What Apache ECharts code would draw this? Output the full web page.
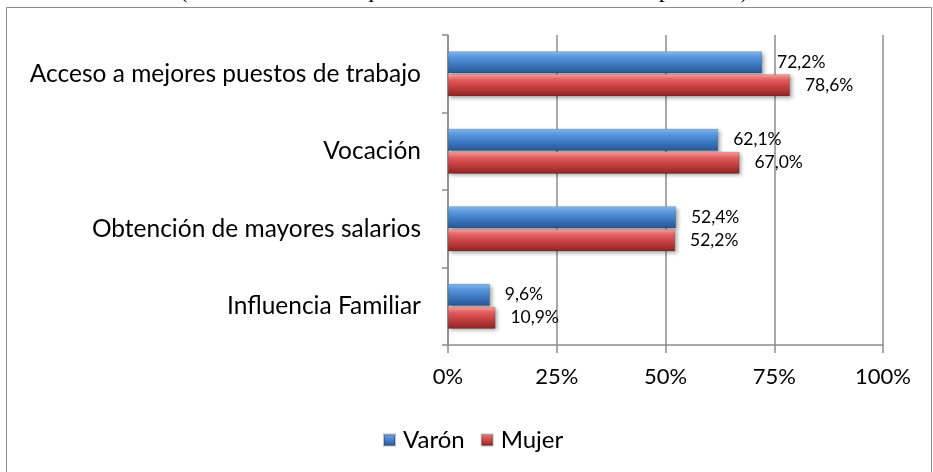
<!DOCTYPE html>
<html>
<head>
<meta charset="utf-8">
<script src="https://cdn.jsdelivr.net/npm/echarts@6/dist/echarts.min.js"></script>
<style>
  html, body { margin: 0; padding: 0; background: #fff; }
  #chart { width: 933px; height: 472px; }
</style>
</head>
<body>
<div id="chart"></div>
<script>
// Reasons for studying, by sex (% of students)
const categories = [
  'Acceso a mejores puestos de trabajo',
  'Vocación',
  'Obtención de mayores salarios',
  'Influencia Familiar'
];
const varon = [72.2, 62.1, 52.4, 9.6];
const mujer = [78.6, 67.0, 52.2, 10.9];
const xTicks = [0, 25, 50, 75, 100];

const FONT = 'Lato';

function grad(stops) {
  return new echarts.graphic.LinearGradient(0, 0, 0, 1,
    stops.map(([offset, color]) => ({ offset, color })));
}
const blueFill = grad([[0, '#86b8ee'], [0.25, '#5b98de'], [0.6, '#3c78c2'], [1, '#2a5590']]);
const redFill = grad([[0, '#f7a3a3'], [0.25, '#e46060'], [0.6, '#c23e3e'], [1, '#8c2525']]);

const fmt = v => v.toFixed(1).replace('.', ',') + '%';

const chart = echarts.init(document.getElementById('chart'), null, { renderer: 'canvas' });

function barSeries(name, data, fill) {
  return {
    name,
    type: 'bar',
    data,
    barWidth: 22,
    barGap: '4%',
    itemStyle: {
      color: fill,
      borderColor: 'rgba(0,0,0,0.25)',
      borderWidth: 0.5,
      shadowColor: 'rgba(0,0,0,0.35)',
      shadowBlur: 4,
      shadowOffsetX: 2,
      shadowOffsetY: 2
    },
    label: {
      show: true,
      position: 'right',
      distance: 15,
      formatter: p => fmt(p.value),
      color: '#000',
      fontFamily: FONT,
      fontSize: 17.5
    }
  };
}

chart.setOption({
  animation: false,
  graphic: [
    {
      type: 'rect',
      shape: { x: 6.5, y: 7.5, width: 925, height: 480 },
      style: { fill: 'none', stroke: '#8a8a8a', lineWidth: 1 },
      z: 0
    },
    {
      type: 'text',
      x: 464,
      y: -22,
      style: {
        text: '(% de estudiantes que lo consideran bastante importante)',
        font: '25px "Liberation Serif"',
        fill: '#000',
        textAlign: 'center',
        textVerticalAlign: 'top'
      }
    }
  ],
  legend: {
    data: [
      { name: 'Varón', itemStyle: { color: blueFill } },
      { name: 'Mujer', itemStyle: { color: redFill } }
    ],
    left: 378,
    top: 423,
    icon: 'rect',
    itemWidth: 11,
    itemHeight: 11,
    itemGap: 16,
    textStyle: { fontFamily: FONT, fontSize: 24, color: '#000', padding: [0, 0, 0, 3] }
  },
  grid: { left: 448, right: 50, top: 35, bottom: 127 },
  xAxis: {
    type: 'value',
    min: 0,
    max: 100,
    interval: 25,
    axisLine: { show: true, lineStyle: { color: '#8c8c8c', width: 1.5 } },
    axisTick: { show: true, length: 8, lineStyle: { color: '#8c8c8c', width: 1.5 } },
    splitLine: { show: true, lineStyle: { color: '#8c8c8c', width: 1.5 } },
    axisLabel: {
      formatter: v => xTicks.includes(v) ? v + '%' : '',
      color: '#000',
      fontFamily: FONT,
      fontSize: 22,
      margin: 21
    }
  },
  yAxis: {
    type: 'category',
    data: categories,
    inverse: true,
    axisLine: { show: true, lineStyle: { color: '#8c8c8c', width: 1.5 } },
    axisTick: { show: true, length: 6, lineStyle: { color: '#8c8c8c', width: 1.5 } },
    axisLabel: { color: '#000', fontFamily: FONT, fontSize: 24.5, margin: 27 }
  },
  series: [
    barSeries('Varón', varon, blueFill),
    barSeries('Mujer', mujer, redFill)
  ]
});
</script>
</body>
</html>
